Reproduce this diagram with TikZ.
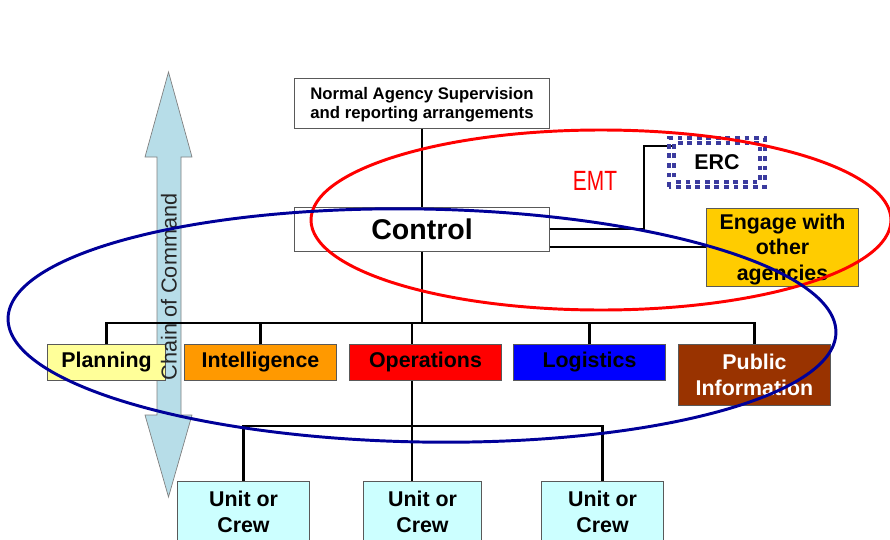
\documentclass[tikz,border=0pt]{standalone}
\usepackage{fontspec}
\setmainfont{Liberation Sans}

\definecolor{planfill}{HTML}{FFFF99}
\definecolor{intelfill}{HTML}{FF9900}
\definecolor{opsfill}{HTML}{FF0000}
\definecolor{logifill}{HTML}{0000FF}
\definecolor{pubfill}{HTML}{993300}
\definecolor{engagefill}{HTML}{FFCC00}
\definecolor{unitfill}{HTML}{CCFFFF}
\definecolor{chainfill}{HTML}{B7DDE8}
\definecolor{teamnavy}{HTML}{000099}
\definecolor{ercblue}{HTML}{3B3B9E}

\begin{document}
\begin{tikzpicture}[
    x=0.025cm, y=-0.025cm,
    box/.style={draw=black!65, line width=0.7pt, inner sep=0pt, align=center,
        font=\fontsize{15.2}{18.4}\selectfont\bfseries},
    link/.style={line width=1.6pt},
    team/.style={line width=2.1pt},
    checker/.style={draw=ercblue, line width=3.4pt, dash pattern=on 3.4pt off 3.4pt}
    ]

    \useasboundingbox (0,0) rectangle (890,540);
    \clip (0,0) rectangle (890,540);

    % chain of command arrow
    \filldraw[fill=chainfill, draw=black!50, line width=0.5pt]
        (168.5,72) -- (192,157) -- (181,157) -- (181,415) -- (192,415) -- (168.5,497)
        -- (145,415) -- (157,415) -- (157,157) -- (145,157) -- cycle;

    \node[box, fill=white, minimum width=6.35cm, minimum height=1.25cm,
        font=\fontsize{11.9}{13.5}\selectfont\bfseries] (super) at (422,103)
        {\rule{0pt}{11pt}Normal Agency Supervision\\and reporting arrangements};
    \node[box, fill=white, minimum width=6.35cm, minimum height=1.1cm,
        font=\fontsize{20.3}{24}\selectfont\bfseries] (control) at (422,229) {Control};

    \node[box, fill=planfill, minimum width=2.925cm, minimum height=0.9cm] (plan) at (106.5,362) {Planning};
    \node[box, fill=intelfill, minimum width=3.775cm, minimum height=0.9cm] (intel) at (260.5,362) {Intelligence};
    \node[box, fill=opsfill, minimum width=3.775cm, minimum height=0.9cm] (ops) at (425.5,362) {Operations};
    \node[box, fill=logifill, minimum width=3.775cm, minimum height=0.9cm] (logi) at (589.5,362) {Logistics};
    \node[box, fill=pubfill, text=white, minimum width=3.775cm, minimum height=1.525cm] (pubinfo) at (754.5,374.5) {Public\\Information};

    \node[box, fill=engagefill, minimum width=3.775cm, minimum height=1.95cm] (engage) at (782.5,247) {\rule{0pt}{14.5pt}Engage with\\other\\agencies};
    \node[box, draw=none, fill=white, minimum width=2.25cm, minimum height=1.075cm] (erc) at (717,162.5) {ERC};

    \node[box, fill=unitfill, minimum width=3.275cm, minimum height=1.55cm] (unitA) at (243.5,512) {Unit or\\Crew};
    \node[box, fill=unitfill, minimum width=2.925cm, minimum height=1.55cm] (unitB) at (422.5,512) {Unit or\\Crew};
    \node[box, fill=unitfill, minimum width=3.025cm, minimum height=1.55cm] (unitC) at (602.5,512) {Unit or\\Crew};

    \coordinate (bus) at (422,323);
    \coordinate (opsdrop) at (412,0);
    \coordinate (crewbus) at (412,426);
    \coordinate (ercturn) at (644,146);

    \draw[link] (super) -- (control);
    \draw[link] (control) -- (bus);
    \draw[link] (plan.north) |- (bus) -| (pubinfo.north);
    \draw[link] (intel.north) -- (intel.north |- bus);
    \draw[link] (logi.north) -- (logi.north |- bus);
    \draw[link] (ops.north -| opsdrop) -- (bus -| opsdrop);
    \draw[link] (ops.south -| opsdrop) -- (unitB.north -| opsdrop);
    \draw[link] (unitA.north) |- (crewbus) -| (unitC.north);
    \draw[link] (control.east) -| (ercturn) -- (ercturn -| erc.west);
    \draw[link] (control.east |- engage.west) -- (engage.west);

    % checkered frame round ERC
    \draw[checker] ([shift={(-2.4,2.4)}]erc.south west) rectangle ([shift={(2.4,-2.4)}]erc.north east);
    \draw[checker, dash phase=3.4pt] ([shift={(2.4,-2.4)}]erc.south west) rectangle ([shift={(-2.4,2.4)}]erc.north east);

    \node[rotate=90, font=\fontsize{15.4}{18}\selectfont, text=black!85] (chain) at (169,287) {Chain of Command};
    \node[text=red, font=\fontsize{19.8}{22}\selectfont] (emt) at (595,181) {\scalebox{0.75}[1]{EMT}};

    % the two teams
    \draw[team, red] (601,220) ellipse [x radius=290, y radius=90];
    \draw[team, teamnavy, rotate around={-1:(422,325.5)}] (422,325.5) ellipse [x radius=414, y radius=116.5];

\end{tikzpicture}
\end{document}
